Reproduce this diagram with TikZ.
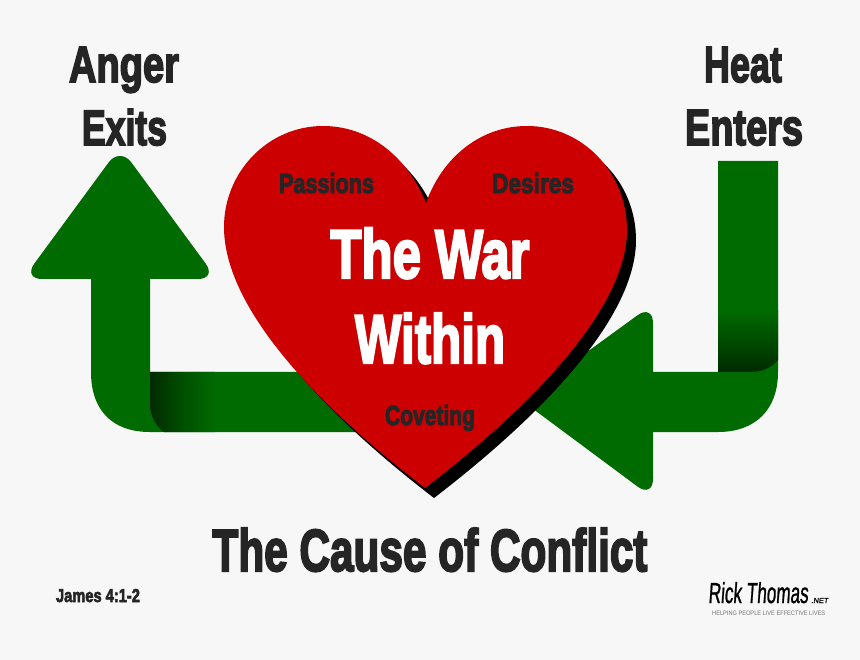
\documentclass[tikz,border=0pt]{standalone}
\usepackage{fontspec}
\usepackage{graphicx}
\setmainfont{Liberation Sans}
\newfontfamily\heavyfont[FakeBold=3.6]{Liberation Sans Bold}
\newfontfamily\plainfont[FakeBold=1.2,FakeSlant=0.12]{Liberation Sans}
\newfontfamily\tagfont{Liberation Sans}
\definecolor{bgcol}{HTML}{F7F7F7}
\definecolor{arrowgreen}{HTML}{006B00}
\definecolor{midgreen}{HTML}{004F00}
\definecolor{darkgreen}{HTML}{002A00}
\definecolor{heartred}{HTML}{CC0000}
\definecolor{inkcol}{HTML}{252525}
\newcommand{\fitbox}[3]{\resizebox{#1pt}{#2pt}{\heavyfont #3}}
\newcommand{\heartshape}{(426,203) .. controls (408,158) and (370,126) .. (323,126)
  .. controls (268,126) and (224,172) .. (224,227)
  .. controls (224,300) and (300,392) .. (425,488)
  .. controls (550,392) and (627,300) .. (627,230)
  .. controls (627,172) and (582,126) .. (527,126)
  .. controls (480,126) and (442,158) .. (426,203) -- cycle}
\tikzset{
  label text/.style={inner sep=0pt,outer sep=0pt,anchor=base,text=inkcol},
  white text/.style={inner sep=0pt,outer sep=0pt,anchor=base,text=white},
  arrow body/.style={fill=arrowgreen}
}
\begin{document}
\begin{tikzpicture}[x=1pt,y=-1pt]
\useasboundingbox (0,0) rectangle (860,660);
\fill[bgcol] (0,0) rectangle (860,660);
% left arrow
\fill[arrow body] (91,279) [rounded corners=19pt] -- (23,279) -- (120,147) -- (217,279) [sharp corners] -- (150,279) -- (150,372) -- (370,372) -- (370,432) -- (150,432) .. controls (112,432) and (91,410) .. (91,372) -- cycle;
\shade[left color=darkgreen,right color=arrowgreen,middle color=midgreen,shading angle=90]
  (150,372) -- (215,372) -- (215,432) -- (164,432) .. controls (155,426) and (150,415) .. (150,403) -- cycle;
% right arrow
\fill[arrow body] (718,161) -- (778,161) -- (778,372) .. controls (778,410) and (755,432) .. (718,432) -- (653,432) [rounded corners=19pt] -- (653,498) -- (521,400) -- (653,304) [sharp corners] -- (653,372) -- (718,372) -- cycle;
\shade[top color=arrowgreen,bottom color=darkgreen]
  (718,310) -- (778,310) -- (778,360) .. controls (771,368) and (762,372) .. (750,372) -- (718,372) -- cycle;
% heart
\fill[black,shift={(9pt,-10pt)}] \heartshape;
\fill[heartred] \heartshape;
% texts
\node[label text] (anger) at (124,82) {\fitbox{110}{35}{Anger}};
\node[label text] (exits) at (124.5,145) {\fitbox{85}{36}{Exits}};
\node[label text] (heat) at (743,82) {\fitbox{78}{35}{Heat}};
\node[label text] (enters) at (744,145) {\fitbox{118}{35}{Enters}};
\node[label text] (passions) at (326.5,193) {\fitbox{95}{20}{Passions}};
\node[label text] (desires) at (533,193) {\fitbox{82}{20}{Desires}};
\node[white text] (war) at (430,278) {\fitbox{199}{50}{The War}};
\node[white text] (within) at (430,363) {\fitbox{150}{50}{Within}};
\node[label text] (coveting) at (430,425) {\fitbox{90}{20}{Coveting}};
\node[label text] (title) at (430,571) {\fitbox{435}{43}{The Cause of Conflict}};
\node[label text] (james) at (98,602) {\fitbox{84}{13}{James 4:1-2}};
% logo
\node[inner sep=0pt,anchor=base west,text=black] (rick) at (708,603) {\resizebox{100pt}{21pt}{\plainfont Rick Thomas}};
\node[inner sep=0pt,anchor=base west,text=black] (dotnet) at (811,603) {\resizebox{17pt}{5pt}{\plainfont .NET}};
\node[inner sep=0pt,anchor=base west,text=black!55] (tagline) at (712,615) {\resizebox{113pt}{4.5pt}{\tagfont HELPING PEOPLE LIVE EFFECTIVE LIVES}};
\end{tikzpicture}
\end{document}
